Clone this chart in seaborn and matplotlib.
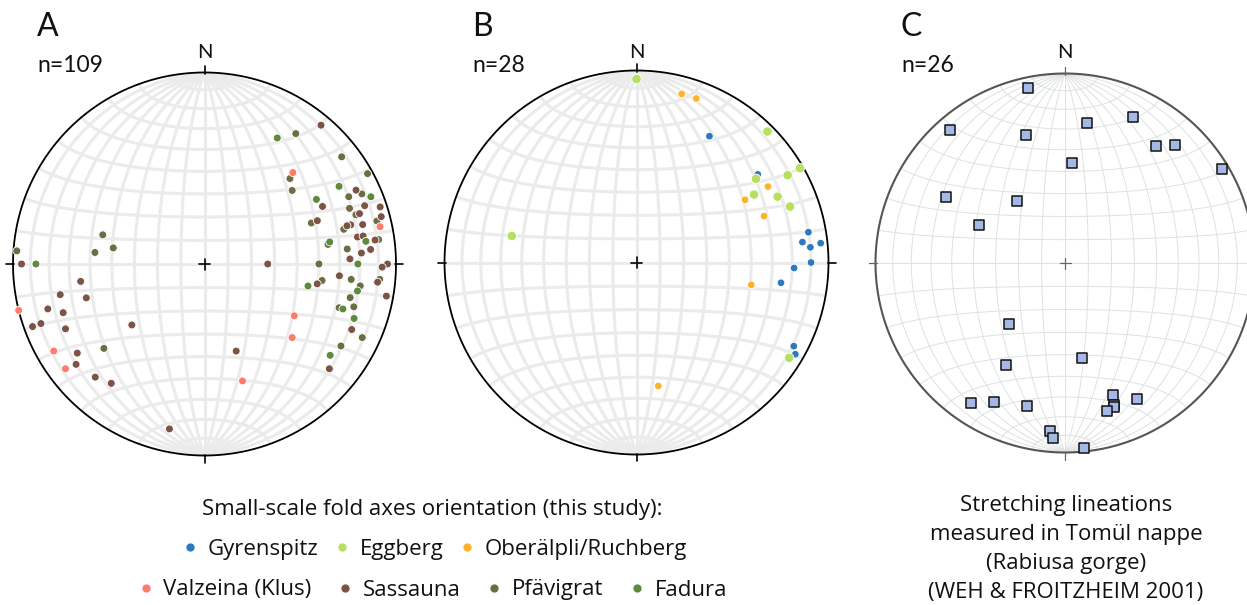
import numpy as np
import pandas as pd
import matplotlib
matplotlib.use("Agg")
import matplotlib.pyplot as plt
import seaborn as sns
from matplotlib.lines import Line2D

sns.set_theme(style="white")
plt.rcParams['font.family'] = ['Lato', 'DejaVu Sans']

# ---------------- data (trend / plunge in degrees, lower hemisphere) ----------------
# Panel A: small-scale fold axes
valzeina_trend = [44, 78, 120, 130, 162, 256, 240, 233]
valzeina_plunge = [34, 7, 45, 40, 36, 0, 10, 10]

sassauna_trend = [40, 64, 64, 70, 72, 72, 75, 69, 76, 75, 75, 80, 80, 82, 85, 86, 88, 90, 91, 90,
                  95, 100, 96, 100, 114, 130, 160, 192, 270, 262, 258, 254, 254, 251, 250, 250,
                  245, 230, 235, 232, 224, 218]
sassauna_plunge = [6, 13, 32, 12, 4, 16, 5, 37, 16, 22, 24, 20, 17, 11, 14, 19, 25, 5, 8, 63,
                   30, 40, 10, 4, 17, 16, 50, 13, 5, 35, 24, 36, 16, 23, 5, 10,
                   21, 49, 20, 16, 19, 22]

pfaevigrat_trend = [35, 52, 45, 61, 50, 65, 66, 69, 72, 69, 76, 76, 82, 81, 84, 90, 96, 98, 95, 98,
                    103, 108, 106, 115, 121, 274, 286, 280, 276, 230]
pfaevigrat_plunge = [18, 10, 37, 3, 40, 18, 11, 20, 18, 40, 8, 26, 9, 35, 26, 40, 24, 38, 9, 19,
                     23, 27, 20, 10, 18, 2, 44, 50, 42, 32]

fadura_trend = [30, 60, 68, 60, 82, 80, 90, 102, 100, 108, 110, 126, 270]
fadura_plunge = [25, 20, 7, 33, 16, 34, 21, 44, 20, 25, 18, 20, 13]

# Panel B
gyrenspitz_trend = [30, 54, 80, 83, 85, 84, 90, 92, 98, 118, 120]
gyrenspitz_plunge = [25, 23, 10, 14, 10, 4, 10, 19, 25, 8, 5]

eggberg_trend = [0, 45, 60, 60, 55, 60, 65, 70, 282, 122]
eggberg_plunge = [5, 4, 2, 10, 25, 30, 20, 16, 34, 7]

oberaelpli_trend = [15, 20, 60, 60, 70, 101, 170]
oberaelpli_plunge = [10, 10, 22, 35, 30, 39, 35]

# Panel C: stretching lineations (Weh & Froitzheim 2001)
lineation_trend = [348, 25, 9, 319, 343, 38, 43, 4, 59, 299, 322, 294, 223, 170, 210, 214, 207,
                   195, 160, 152, 161, 161, 164, 185, 184, 174]
lineation_plunge = [6, 16, 26, 8, 30, 23, 16, 46, 4, 29, 56, 49, 54, 48, 38, 12, 19,
                    23, 27, 20, 22, 21, 20, 12, 8, 2]

n_labels = ["n=109", "n=28", "n=26"]
panel_letters = ["A", "B", "C"]
legend_title = "Small-scale fold axes orientation (this study):"
legend_row1 = ["Gyrenspitz", "Eggberg", "Oberälpli/Ruchberg"]
legend_row2 = ["Valzeina (Klus)", "Sassauna", "Pfävigrat", "Fadura"]
c_caption = ["Stretching lineations", "measured in Tomül nappe", "(Rabiusa gorge)",
             "(WEH & FROITZHEIM 2001)"]

palette = {
    "Gyrenspitz": "#2c78c1",
    "Eggberg": "#b7df62",
    "Oberälpli/Ruchberg": "#fbb427",
    "Valzeina (Klus)": "#fe7b70",
    "Sassauna": "#7b5445",
    "Pfävigrat": "#6e6c45",
    "Fadura": "#5d8a3f",
}

CAPTION_FONT = ['Open Sans', 'DejaVu Sans']
CAPTION_SIZE = 16


def project(trend, plunge):
    t = np.radians(np.asarray(trend, float))
    p = np.radians(np.asarray(plunge, float))
    vE = np.cos(p) * np.sin(t)
    vN = np.cos(p) * np.cos(t)
    vD = np.sin(p)
    k = 1.0 / np.sqrt(1.0 + vD)
    return vE * k, vN * k


def frame(groups):
    rows = []
    for name, tr, pl in groups:
        x, y = project(tr, pl)
        rows.append(pd.DataFrame({"x": x, "y": y, "site": name}))
    return pd.concat(rows, ignore_index=True)


W, H = 1247, 605
fig = plt.figure(figsize=(W / 100, H / 100), dpi=100)
fig.patch.set_facecolor("white")
L = 1.06


def make_ax(cx, cy, R):
    ax = fig.add_axes([(cx - L * R) / W, (H - cy - L * R) / H, 2 * L * R / W, 2 * L * R / H])
    ax.set_xlim(-L, L)
    ax.set_ylim(-L, L)
    ax.set_aspect("equal")
    ax.axis("off")
    return ax


def draw_net(ax, R, gcolor, glw, pcolor, plw, tcolor, tlw):
    s = np.radians(np.linspace(-90, 90, 361))
    for d in range(-80, 90, 10):
        a = np.radians(d)
        # meridian (great circle through N and S)
        vE = np.cos(s) * np.sin(a); vN = np.sin(s); vD = np.cos(s) * np.cos(a)
        k = 1 / np.sqrt(1 + vD)
        ax.plot(vE * k, vN * k, color=gcolor, lw=glw, zorder=1, solid_capstyle="butt")
        # small circle (latitude)
        vE = np.cos(a) * np.sin(s); vN = np.sin(a) * np.ones_like(s); vD = np.cos(a) * np.cos(s)
        k = 1 / np.sqrt(1 + vD)
        ax.plot(vE * k, vN * k, color=gcolor, lw=glw, zorder=1, solid_capstyle="butt")
    th = np.linspace(0, 2 * np.pi, 400)
    ax.plot(np.cos(th), np.sin(th), color=pcolor, lw=plw, zorder=3)
    t_out = 1 + 7 / R
    t_in = 1 - 1 / R
    for (ux, uy) in [(0, 1), (1, 0), (0, -1), (-1, 0)]:
        ax.plot([ux * t_in, ux * t_out], [uy * t_in, uy * t_out], color=tcolor, lw=tlw, zorder=3)
    c = 5.5 / R
    ax.plot([-c, c], [0, 0], color=tcolor, lw=tlw, zorder=3)
    ax.plot([0, 0], [-c, c], color=tcolor, lw=tlw, zorder=3)


# panel geometry (pixels)
panels = [(204.5, 264, 191.5), (636.5, 262.5, 192), (1065, 263, 189.5)]

axA = make_ax(*panels[0])
draw_net(axA, panels[0][2], "#ebebeb", 2.2, "black", 1.3, "black", 1.2)
dfA = frame([("Pfävigrat", pfaevigrat_trend, pfaevigrat_plunge),
             ("Sassauna", sassauna_trend, sassauna_plunge),
             ("Fadura", fadura_trend, fadura_plunge),
             ("Valzeina (Klus)", valzeina_trend, valzeina_plunge)])
sns.scatterplot(data=dfA, x="x", y="y", hue="site", palette=palette, s=32,
                edgecolor="white", linewidth=0.6, legend=False, ax=axA, zorder=5)

axB = make_ax(*panels[1])
draw_net(axB, panels[1][2], "#ebebeb", 2.2, "black", 1.3, "black", 1.2)
dfB = frame([("Gyrenspitz", gyrenspitz_trend, gyrenspitz_plunge),
             ("Oberälpli/Ruchberg", oberaelpli_trend, oberaelpli_plunge),
             ("Eggberg", eggberg_trend, eggberg_plunge)])
sns.scatterplot(data=dfB, x="x", y="y", hue="site", palette=palette, size="site",
                sizes={"Gyrenspitz": 30, "Oberälpli/Ruchberg": 30, "Eggberg": 46},
                edgecolor="white", linewidth=0.6, legend=False, ax=axB, zorder=5)

axC = make_ax(*panels[2])
draw_net(axC, panels[2][2], "#dde1e3", 0.7, "#555555", 1.5, "#666666", 0.9)
dfC = frame([("Lineation", lineation_trend, lineation_plunge)])
sns.scatterplot(data=dfC, x="x", y="y", marker="s", color="#a4b8e6", s=42,
                edgecolor="#111111", linewidth=1.1, legend=False, ax=axC, zorder=5)

# labels
letter_x = [37, 472, 901]
for (cx, cy, R), lx, let, nl in zip(panels, letter_x, panel_letters, n_labels):
    fig.text(lx / W, 1 - 27 / H, let, fontsize=23, ha="left", va="center", color="#111111")
    fig.text(lx / W, 1 - 66 / H, nl, fontsize=16.5, ha="left", va="center", color="#111111")
    fig.text(cx / W, 1 - 52 / H, "N", fontsize=14.5, ha="center", va="center", color="#111111")

# legend
fig.text(432 / W, 1 - 509 / H, legend_title, fontsize=CAPTION_SIZE, ha="center", va="center",
         color="#111111", family=CAPTION_FONT)


def handles(names):
    return [Line2D([], [], marker="o", linestyle="", markersize=6.5,
                   markerfacecolor=palette[n], markeredgecolor="white", markeredgewidth=0.5)
            for n in names]


leg1 = fig.legend(handles=handles(legend_row1), labels=legend_row1, loc="center",
                  bbox_to_anchor=(435 / W, 1 - 549 / H), ncol=3, frameon=False,
                  prop={"family": CAPTION_FONT, "size": CAPTION_SIZE},
                  handlelength=0.6, handletextpad=0.5, columnspacing=0.75,
                  borderpad=0, borderaxespad=0)
leg2 = fig.legend(handles=handles(legend_row2), labels=legend_row2, loc="center",
                  bbox_to_anchor=(433 / W, 1 - 590 / H), ncol=4, frameon=False,
                  prop={"family": CAPTION_FONT, "size": CAPTION_SIZE},
                  handlelength=0.6, handletextpad=0.5, columnspacing=1.2,
                  borderpad=0, borderaxespad=0)
for lg in (leg1, leg2):
    for t in lg.get_texts():
        t.set_color("#111111")

for i, line in enumerate(c_caption):
    fig.text(1066 / W, 1 - (505 + 29.3 * i) / H, line, fontsize=CAPTION_SIZE, ha="center",
             va="center", color="#111111", family=CAPTION_FONT)

fig.savefig("out.png", dpi=100, facecolor="white")
